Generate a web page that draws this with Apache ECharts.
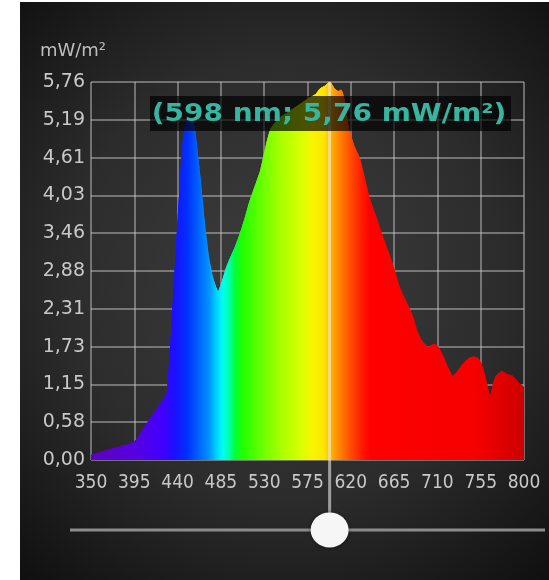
<!DOCTYPE html>
<html>
<head>
<meta charset="utf-8">
<style>
  html, body { margin: 0; padding: 0; background: #ffffff; }
  #chart { width: 549px; height: 580px; }
</style>
<script src="https://cdn.jsdelivr.net/npm/echarts@6/dist/echarts.min.js"></script>
</head>
<body>
<div id="chart"></div>
<script>
// ---- data ----
const wavelengths = [350, 365, 380, 392, 398, 405, 415, 422, 429, 433, 437, 441, 445, 448, 452, 455, 458, 463, 468, 472, 476, 482,
  486, 490, 494, 500, 505, 510, 515, 520, 526, 533, 537, 545, 555, 565, 575, 584, 588, 593, 598, 603, 607, 610, 613, 616, 618,
  623, 629, 634, 639, 645, 650, 655, 660, 665, 670, 676, 681, 685, 689, 693, 697, 701, 706, 710, 716, 721, 726, 731, 737, 742,
  747, 752, 756, 761, 765, 768, 771, 777, 783, 788, 793, 800];
const irradiance = [0.07, 0.14, 0.20, 0.25, 0.32, 0.49, 0.70, 0.85, 1.02, 1.80, 2.80, 3.80, 4.75, 5.10, 5.22, 5.20, 5.00, 4.34, 3.58, 3.10, 2.80, 2.56,
  2.70, 2.90, 3.05, 3.25, 3.45, 3.68, 3.94, 4.15, 4.40, 4.85, 5.05, 5.20, 5.30, 5.40, 5.50, 5.58, 5.66, 5.70, 5.764, 5.66, 5.62, 5.64, 5.50, 5.20, 5.03,
  4.80, 4.60, 4.30, 4.00, 3.75, 3.53, 3.32, 3.12, 2.90, 2.65, 2.45, 2.30, 2.15, 1.95, 1.83, 1.76, 1.72, 1.76, 1.74, 1.57, 1.40, 1.27, 1.35, 1.47, 1.54,
  1.57, 1.55, 1.45, 1.17, 0.96, 1.15, 1.28, 1.35, 1.30, 1.28, 1.20, 1.10];
const xTickStart = 350, xTickEnd = 800, xTickStep = 45;
const yTickMax = 5.764, yTickStep = 0.5764;
const unitLabel = 'mW/m²';
const cursorNm = 598;

const fmt = v => v.toFixed(2).replace('.', ',');

// spectral colour stops by wavelength
const colorStops = [
  [350, '#5c00c0'], [395, '#5800e0'], [425, '#4000ff'], [437, '#1a10ff'], [450, '#0030ff'],
  [463, '#0068ff'], [473, '#0095ff'], [480, '#00cfff'], [487, '#00fff0'], [493, '#00ffb0'],
  [499, '#00ff40'], [507, '#20ff00'], [525, '#60ff00'], [547, '#a8ff00'], [568, '#d8ff00'],
  [580, '#f8f500'], [592, '#ffe600'], [600, '#ffb000'], [609, '#ff8000'], [620, '#ff4c00'],
  [632, '#ff1800'], [640, '#ff0000'], [750, '#f60000'], [800, '#cc0000']
];
const grad = new echarts.graphic.LinearGradient(0, 0, 1, 0,
  colorStops.map(s => ({ offset: (s[0] - xTickStart) / (xTickEnd - xTickStart), color: s[1] })));

const chart = echarts.init(document.getElementById('chart'), null, { renderer: 'canvas' });

const option = {
  backgroundColor: 'transparent',
  animation: false,
  grid: { left: 91, right: 25, top: 82, bottom: 120, containLabel: false },
  xAxis: {
    type: 'value', min: xTickStart, max: xTickEnd, interval: xTickStep,
    axisLine: { show: false }, axisTick: { show: false },
    axisLabel: { color: '#c8c8c8', fontSize: 19, fontFamily: '"Liberation Sans Narrow", "DejaVu Sans Condensed", "Noto Sans", sans-serif', margin: 14, showMinLabel: true, showMaxLabel: true },
    splitLine: { show: true, lineStyle: { color: 'rgba(205,205,205,0.6)', width: 1.5 } }
  },
  yAxis: {
    type: 'value', min: 0, max: yTickMax, interval: yTickStep,
    name: unitLabel, nameLocation: 'end', nameGap: 22,
    nameTextStyle: { color: '#bdbdbd', fontSize: 18, fontFamily: '"DejaVu Sans", sans-serif', align: 'center', padding: [0, 36, 0, 0] },
    axisLine: { show: false }, axisTick: { show: false },
    axisLabel: { color: '#c8c8c8', fontSize: 19, fontFamily: '"DejaVu Sans", sans-serif', margin: 6, formatter: v => fmt(v) },
    splitLine: { show: true, lineStyle: { color: 'rgba(205,205,205,0.6)', width: 1.5 } }
  },
  series: [{
    type: 'line',
    data: wavelengths.map((w, i) => [w, irradiance[i]]),
    symbol: 'none',
    smooth: 0.15,
    lineStyle: { width: 1, color: grad },
    areaStyle: { color: grad, opacity: 1 },
    z: 2
  }],
  graphic: [{
    type: 'rect', z: -10, silent: true,
    shape: { x: 20, y: 2, width: 529, height: 578 },
    style: {
      fill: new echarts.graphic.RadialGradient(0.5, 0.48, 0.75, [
        { offset: 0, color: '#3e3e3e' }, { offset: 0.55, color: '#2c2c2c' }, { offset: 1, color: '#101010' }
      ])
    }
  }]
};
chart.setOption(option);

// cursor, readout and slider placed through the chart's own scales
const cursorVal = irradiance[wavelengths.indexOf(cursorNm)];
const pTop = chart.convertToPixel({ xAxisIndex: 0, yAxisIndex: 0 }, [cursorNm, yTickMax]);
const sliderY = 530;
chart.setOption({
  graphic: [
    option.graphic[0],
    { type: 'line', z: 50, silent: true,
      shape: { x1: pTop[0], y1: pTop[1], x2: pTop[0], y2: sliderY },
      style: { stroke: 'rgba(235,235,235,0.6)', lineWidth: 3 } },
    { type: 'rect', z: 60, silent: true,
      shape: { x: 150, y: 96, width: 361, height: 35 },
      style: { fill: 'rgba(0,0,0,0.68)' } },
    { type: 'text', z: 61, silent: true, x: 329, y: 114, scaleX: 1.12,
      style: { text: '(' + cursorNm + ' nm; ' + fmt(cursorVal) + ' ' + unitLabel + ')',
        fill: '#36b5a0', font: 'bold 25px "DejaVu Sans", sans-serif', textAlign: 'center', textVerticalAlign: 'middle' } },
    { type: 'line', z: 50, silent: true,
      shape: { x1: 70, y1: sliderY, x2: 545, y2: sliderY },
      style: { stroke: '#8c8c8c', lineWidth: 3 } },
    { type: 'ellipse', z: 70, silent: true,
      shape: { cx: pTop[0], cy: sliderY, rx: 19, ry: 17.5 },
      style: { fill: '#f6f6f6', shadowBlur: 4, shadowColor: 'rgba(0,0,0,0.5)' } }
  ]
});
</script>
</body>
</html>
